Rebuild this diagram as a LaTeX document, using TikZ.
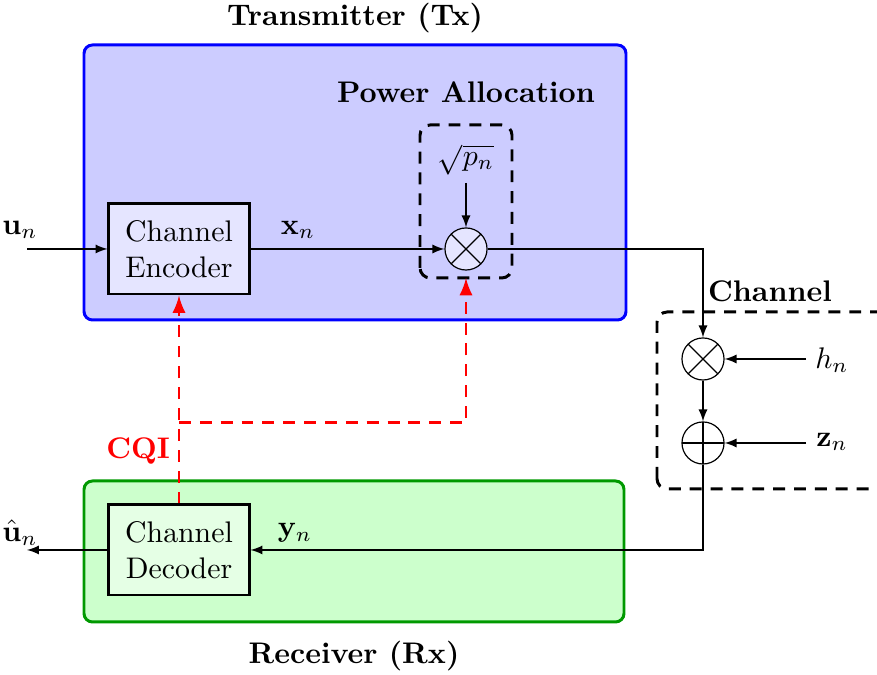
\documentclass[tikz,border=0pt]{standalone}
\usepackage{amsmath}
\usepackage{amssymb}
\usetikzlibrary{arrows,calc}

\tikzset{
  block/.style={draw,line width=1pt,minimum width=1.652cm,minimum height=1.062cm,align=center,inner sep=0pt},
  mult/.style={draw,circle,minimum size=0.496cm,inner sep=0pt,path picture={
      \draw (path picture bounding box.north west)--(path picture bounding box.south east)
            (path picture bounding box.north east)--(path picture bounding box.south west);}},
  adder/.style={draw,circle,minimum size=0.496cm,inner sep=0pt,path picture={
      \draw (path picture bounding box.north)--(path picture bounding box.south)
            (path picture bounding box.east)--(path picture bounding box.west);}},
  dashbox/.style={draw,line width=1pt,dash pattern=on 4pt off 3pt,rounded corners=0.12cm},
  cqi/.style={red,line width=1pt,dash pattern=on 4pt off 3pt,-latex}
}

\begin{document}
\begin{tikzpicture}[x=0.0118cm,y=0.0118cm,>=latex]
                \clip (0,0) rectangle (877,675);
                \useasboundingbox (0,0) rectangle (877,675);
                % transmitter and receiver areas
                \draw[blue,line width=1pt,fill=blue!20,rounded corners=0.1cm] (84,355) rectangle (626,630);
                \draw[green!60!black,line width=1pt,fill=green!20,rounded corners=0.1cm] (84,53) rectangle (624,194);
                \node[font=\bfseries] (txtitle) at (355,657) {Transmitter (Tx)};
                \node[font=\bfseries] (rxtitle) at (354,19) {Receiver (Rx)};
                \node[font=\bfseries] (patitle) at (466,583) {Power Allocation};
                \draw[dashbox] (420,397) rectangle (512,550);
                \draw[dashbox] (657,186) rectangle (900,363);
                \node[font=\bfseries] (chtitle) at (770,384) {Channel};
                % blocks
                \node[block,fill=blue!10] (enc) at (179,426) {Channel\\Encoder};
                \node[block,fill=green!10] (dec) at (179,125) {Channel\\Decoder};
                \node[mult,fill=blue!10] (pmul) at (466,426) {};
                \node[mult] (hmul) at (703,316) {};
                \node[adder] (zadd) at (703,232) {};
                % labels
                \node (un) at (20,445) {$\mathbf{u}_n$};
                \node (xn) at (298,445) {$\mathbf{x}_n$};
                \node (yn) at (295,142) {$\mathbf{y}_n$};
                \node (uhat) at (20,142) {$\hat{\mathbf{u}}_n$};
                \node (pn) at (466,515) {$\sqrt{p_n}$};
                \node (hn) at (832,315) {$h_n$};
                \node (zn) at (832,233) {$\mathbf{z}_n$};
                \node[red,font=\bfseries] (cqi) at (138,224) {CQI};
                \coordinate (uin) at (27,426);
                \coordinate (uout) at (27,125);
                \coordinate (pntip) at (466,492);
                \coordinate (hin) at (806,316);
                \coordinate (zin) at (806,232);
                \coordinate (pbot) at (466,397);
                \coordinate (split) at (179,252);
                % signal path
                \draw[->] (uin) -- (enc);
                \draw[->] (enc) -- (pmul);
                \draw[->] (pntip) -- (pmul);
                \draw[->] (pmul) -| (hmul);
                \draw[->] (hin) -- (hmul);
                \draw[->] (zin) -- (zadd);
                \draw[->] (hmul) -- (zadd);
                \draw[->] (zadd) |- (dec);
                \draw[->] (dec) -- (uout);
                % feedback
                \draw[cqi] (dec.north) -- (enc.south);
                \draw[cqi] (split) -| (pbot);
\end{tikzpicture}
\end{document}
